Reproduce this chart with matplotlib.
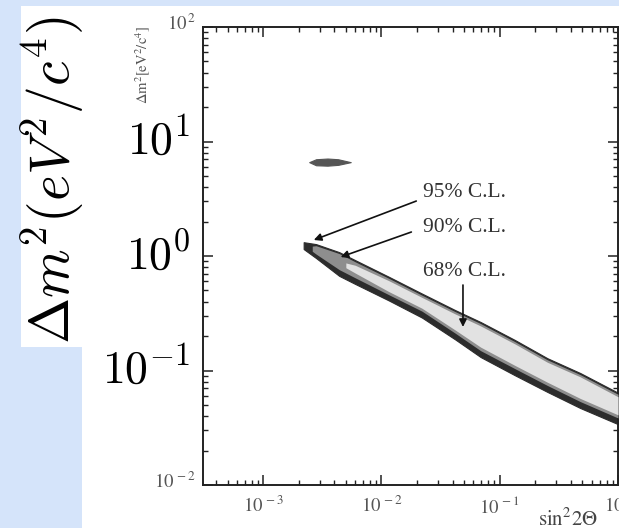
import matplotlib.pyplot as plt
import matplotlib.transforms as mtransforms
from matplotlib.patches import Rectangle
import numpy as np

# contornos (sin^2 2theta, delta m^2)
cl95_x = [2.2e-3, 2.8e-3, 4.4e-3, 6e-3, 1.15e-2, 2.2e-2, 4.2e-2, 6.9e-2, 0.134, 0.253, 0.48, 1.0]
cl95_hi = [1.32, 1.27, 1.08, 0.92, 0.66, 0.47, 0.337, 0.265, 0.185, 0.128, 0.095, 0.064]
cl95_lo = [1.15, 0.96, 0.67, 0.57, 0.41, 0.29, 0.187, 0.131, 0.091, 0.065, 0.047, 0.034]

cl90_x = [2.6e-3, 2.8e-3, 4.4e-3, 6e-3, 1.15e-2, 2.2e-2, 4.2e-2, 6.9e-2, 0.134, 0.253, 0.48, 1.0]
cl90_hi = [1.22, 1.23, 1.05, 0.89, 0.64, 0.455, 0.327, 0.257, 0.179, 0.124, 0.092, 0.062]
cl90_lo = [1.10, 1.04, 0.76, 0.645, 0.46, 0.33, 0.212, 0.149, 0.104, 0.074, 0.0535, 0.0385]

cl68_x = [5e-3, 6e-3, 1.15e-2, 2.2e-2, 4.2e-2, 6.9e-2, 0.134, 0.253, 0.48, 1.0]
cl68_hi = [0.87, 0.83, 0.61, 0.435, 0.312, 0.245, 0.171, 0.118, 0.088, 0.059]
cl68_lo = [0.79, 0.71, 0.49, 0.35, 0.226, 0.16, 0.111, 0.079, 0.057, 0.041]

isla_x = [2.45e-3, 2.8e-3, 3.5e-3, 4.3e-3, 5.5e-3]
isla_hi = [6.6, 7.0, 7.1, 7.0, 6.6]
isla_lo = [6.6, 6.2, 6.15, 6.25, 6.6]

# etiquetas y flechas: (texto, posicion texto, cola, punta)
etiquetas = ['95% C.L.', '90% C.L.', '68% C.L.']
texto_y = [3.62, 1.76, 0.725]
texto_x = 2.25e-2
cola_x = [1.97e-2, 1.79e-2, 4.89e-2]
cola_y = [3.02, 1.62, 0.558]
punta_x = [2.68e-3, 4.52e-3, 4.89e-2]
punta_y = [1.38, 0.98, 0.24]

xticks = [1e-3, 1e-2, 1e-1, 1e0]
xtick_labels = [r'$10^{\,-3}$', r'$10^{\,-2}$', r'$10^{\,-1}$', r'$10^{\,0}$']
yticks = [1e-2, 1e-1, 1e0, 1e1, 1e2]
ytick_labels = [r'$10^{\,-2}$', '', '', '', r'$10^{\,2}$']
grandes_y = [1e1, 1e0, 1e-1]
grandes_txt = [r'$10^{1}$', r'$10^{0}$', r'$10^{-1}$']

W, H = 619, 528
fig = plt.figure(figsize=(W / 100, H / 100), dpi=100)
fig.patch.set_facecolor('#d5e4fa')

# zonas blancas del montaje
fig.patches.append(Rectangle((82 / W, 0), 1 - 82 / W, 1 - 6 / H, transform=fig.transFigure,
                             facecolor='white', edgecolor='none', zorder=-1))
fig.patches.append(Rectangle((21 / W, 1 - 347 / H), 100 / W, (347 - 6) / H, transform=fig.transFigure,
                             facecolor='white', edgecolor='none', zorder=-1))

ax = fig.add_axes([203 / W, 1 - 485 / H, (618 - 203) / W, (485 - 27) / H])
ax.set_zorder(1)
ax.patch.set_alpha(0)
ax.set_xscale('log')
ax.set_yscale('log')
ax.set_xlim(3.1e-4, 1.0)
ax.set_ylim(1e-2, 1e2)

# bandas
ax.fill_between(cl95_x, cl95_lo, cl95_hi, color='#2c2c2c', lw=0.8, zorder=2)
ax.fill_between(cl90_x, cl90_lo, cl90_hi, color='#8e8e8e', lw=0, zorder=3)
ax.fill_between(cl68_x, cl68_lo, cl68_hi, color='#e2e2e2', lw=0, zorder=4)
ax.fill_between(isla_x, isla_lo, isla_hi, color='#555555', lw=0.8, zorder=2)

for i in range(len(etiquetas)):
    ax.text(texto_x, texto_y[i], etiquetas[i], fontsize=15.5, family='Liberation Serif',
            color='#333333', ha='left', va='center', zorder=6)
    ax.annotate('', xy=(punta_x[i], punta_y[i]), xytext=(cola_x[i], cola_y[i]),
                arrowprops=dict(arrowstyle='-|>', color='#111111', lw=1.2,
                                mutation_scale=11, shrinkA=0, shrinkB=0), zorder=6)

# ejes al estilo del grafico escaneado
for s in ax.spines.values():
    s.set_linewidth(1.4)
    s.set_color('#222222')
ax.tick_params(which='both', direction='in', top=True, right=True, color='#222222')
ax.tick_params(which='major', length=7, width=1.1)
ax.tick_params(which='minor', length=3.5, width=1.0)
ax.set_xticks(xticks)
ax.set_xticklabels(xtick_labels)
ax.set_yticks(yticks)
ax.set_yticklabels(ytick_labels)
ax.tick_params(axis='x', pad=8)
ax.tick_params(axis='y', pad=5)
for lab in ax.get_xticklabels() + ax.get_yticklabels():
    lab.set_fontsize(13.5)
    lab.set_color('#555555')
    lab.set_math_fontfamily('stix')
desplazar = mtransforms.ScaledTranslation(0, 5 / 100, fig.dpi_scale_trans)
for lab in ax.get_yticklabels():
    lab.set_transform(lab.get_transform() + desplazar)

# etiquetas originales pequenas
fig.text(143 / W, 1 - 65 / H, r'$\Delta\mathrm{m}^2[\mathrm{eV}^2/\mathrm{c}^4]$', rotation=90,
         fontsize=10.5, color='#555555', ha='center', va='center', math_fontfamily='stix')
fig.text(538 / W, 1 - 519 / H, r'$\mathrm{sin^22\Theta}$', fontsize=15, color='#444444',
         ha='left', va='center', math_fontfamily='stix')

# etiquetas grandes superpuestas
trans = mtransforms.blended_transform_factory(ax.transAxes, ax.transData)
for yv, t in zip(grandes_y, grandes_txt):
    ax.text(-0.03, yv, t, transform=trans, fontsize=33, ha='right', va='center',
            math_fontfamily='cm', color='black', clip_on=False)
fig.text(53 / W, 1 - 180 / H, r'$\Delta m^2(eV^2/c^4)$', rotation=90, fontsize=40,
         ha='center', va='center', math_fontfamily='cm', color='black')

fig.savefig('out.png', dpi=100, facecolor=fig.get_facecolor())
